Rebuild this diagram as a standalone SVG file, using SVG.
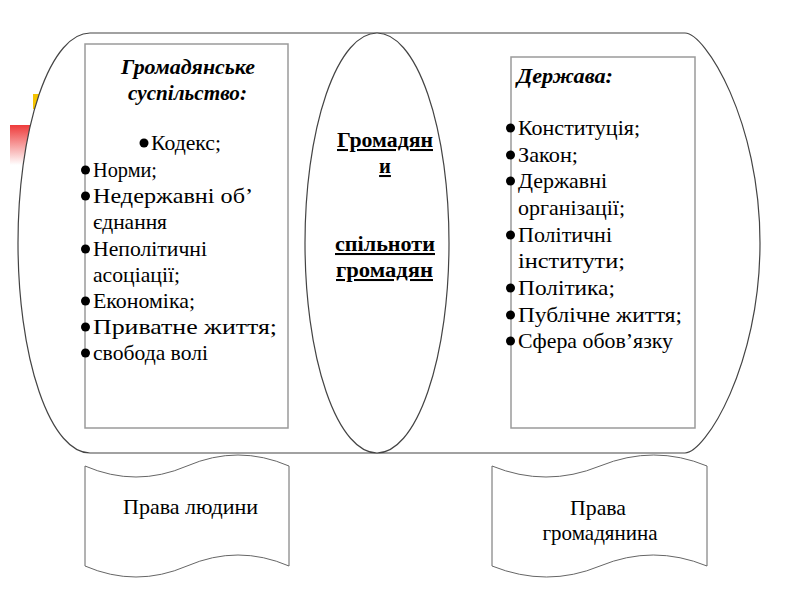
<svg xmlns="http://www.w3.org/2000/svg" width="800" height="600" viewBox="0 0 800 600">
<defs>
<linearGradient id="redfade" x1="0" y1="0" x2="0" y2="1">
<stop offset="0" stop-color="#ee3b3b"/>
<stop offset="1" stop-color="#ffffff"/>
</linearGradient>
<style>
.t{font-family:"Liberation Serif","DejaVu Serif",serif;font-size:21px;fill:#000}
.h{font-family:"Liberation Serif","DejaVu Serif",serif;font-size:22px;font-weight:bold;font-style:italic;fill:#000}
.c{font-family:"Liberation Serif","DejaVu Serif",serif;font-size:20.5px;font-weight:bold;fill:#000;text-decoration:underline}
.box{fill:#fff;stroke:#9a9a9a;stroke-width:1.5}
.outline{fill:#fff;stroke:#444;stroke-width:1.2}
.tape{fill:#fff;stroke:#666;stroke-width:1}
.b{fill:#000}
</style>
</defs>
<rect width="800" height="600" fill="#fff"/>
<rect x="33" y="94" width="30" height="15" fill="#f5c400"/>
<rect x="10" y="125" width="40" height="40" fill="url(#redfade)"/>

<g id="outer">
<path class="outline" d="M90,33 L685,33 C705,33 760,120 760,243 C760,366 705,453 685,453 L90,453 A72,210 0 0 1 90,33 Z"/>
</g>

<g id="civil-society">
<rect class="box" x="85" y="44" width="203" height="384"/>
<text class="h" x="188" y="74" text-anchor="middle" textLength="134" lengthAdjust="spacingAndGlyphs">Громадянське</text>
<text class="h" x="187.5" y="100" text-anchor="middle" textLength="119" lengthAdjust="spacingAndGlyphs">суспільство:</text>
<circle class="b" cx="144" cy="143" r="4.5"/>
<text class="t" x="151" y="150" textLength="70" lengthAdjust="spacingAndGlyphs">Кодекс;</text>
<circle class="b" cx="85.5" cy="170" r="4.5"/>
<text class="t" x="93" y="177" textLength="64" lengthAdjust="spacingAndGlyphs">Норми;</text>
<circle class="b" cx="85.5" cy="196" r="4.5"/>
<text class="t" x="93" y="203" textLength="160" lengthAdjust="spacingAndGlyphs">Недержавні об’</text>
<text class="t" x="93" y="229" textLength="74" lengthAdjust="spacingAndGlyphs">єднання</text>
<circle class="b" cx="85.5" cy="249" r="4.5"/>
<text class="t" x="93" y="256" textLength="114" lengthAdjust="spacingAndGlyphs">Неполітичні</text>
<text class="t" x="93" y="282" textLength="87" lengthAdjust="spacingAndGlyphs">асоціації;</text>
<circle class="b" cx="85.5" cy="301" r="4.5"/>
<text class="t" x="93" y="308" textLength="102" lengthAdjust="spacingAndGlyphs">Економіка;</text>
<circle class="b" cx="85.5" cy="327" r="4.5"/>
<text class="t" x="93" y="334" textLength="184" lengthAdjust="spacingAndGlyphs">Приватне життя;</text>
<circle class="b" cx="85.5" cy="353" r="4.5"/>
<text class="t" x="93" y="360" textLength="115" lengthAdjust="spacingAndGlyphs">свобода волі</text>
</g>

<g id="citizens">
<ellipse fill="#fff" stroke="#444" stroke-width="1.2" cx="377" cy="243" rx="72" ry="210"/>
<text class="c" x="385" y="147" text-anchor="middle" textLength="96" lengthAdjust="spacingAndGlyphs">Громадян</text>
<text class="c" x="385" y="173" text-anchor="middle">и</text>
<text class="c" x="385" y="251" text-anchor="middle" textLength="100" lengthAdjust="spacingAndGlyphs">спільноти</text>
<text class="c" x="384.5" y="277" text-anchor="middle" textLength="97" lengthAdjust="spacingAndGlyphs">громадян</text>
</g>

<g id="state">
<rect class="box" x="511" y="57" width="184" height="371"/>
<text class="h" x="517" y="83" textLength="96" lengthAdjust="spacingAndGlyphs">Держава:</text>
<circle class="b" cx="510.5" cy="128" r="4.5"/>
<text class="t" x="518" y="135" textLength="122" lengthAdjust="spacingAndGlyphs">Конституція;</text>
<circle class="b" cx="510.5" cy="155" r="4.5"/>
<text class="t" x="518" y="162" textLength="60" lengthAdjust="spacingAndGlyphs">Закон;</text>
<circle class="b" cx="510.5" cy="181" r="4.5"/>
<text class="t" x="518" y="188" textLength="89" lengthAdjust="spacingAndGlyphs">Державні</text>
<text class="t" x="518" y="215" textLength="107" lengthAdjust="spacingAndGlyphs">організації;</text>
<circle class="b" cx="510.5" cy="235" r="4.5"/>
<text class="t" x="518" y="242" textLength="94" lengthAdjust="spacingAndGlyphs">Політичні</text>
<text class="t" x="518" y="268" textLength="107" lengthAdjust="spacingAndGlyphs">інститути;</text>
<circle class="b" cx="510.5" cy="288" r="4.5"/>
<text class="t" x="518" y="295" textLength="97" lengthAdjust="spacingAndGlyphs">Політика;</text>
<circle class="b" cx="510.5" cy="315" r="4.5"/>
<text class="t" x="518" y="322" textLength="164" lengthAdjust="spacingAndGlyphs">Публічне життя;</text>
<circle class="b" cx="510.5" cy="341" r="4.5"/>
<text class="t" x="518" y="348" textLength="155" lengthAdjust="spacingAndGlyphs">Сфера обов’язку</text>
</g>

<g id="human-rights">
<path class="tape" d="M85,466 Q136,488 187,466 T289,466 L289,566 Q238,544 187,566 T85,566 Z"/>
<text class="t" x="190.5" y="514" text-anchor="middle" textLength="135" lengthAdjust="spacingAndGlyphs">Права людини</text>
</g>

<g id="citizen-rights">
<path class="tape" d="M492,466 Q546,488 600,466 T707,466 L707,566 Q653,544 600,566 T492,566 Z"/>
<text class="t" x="598" y="515" text-anchor="middle" textLength="56" lengthAdjust="spacingAndGlyphs">Права</text>
<text class="t" x="600" y="540" text-anchor="middle" textLength="115" lengthAdjust="spacingAndGlyphs">громадянина</text>
</g>

<g id="connectors"></g>
</svg>
